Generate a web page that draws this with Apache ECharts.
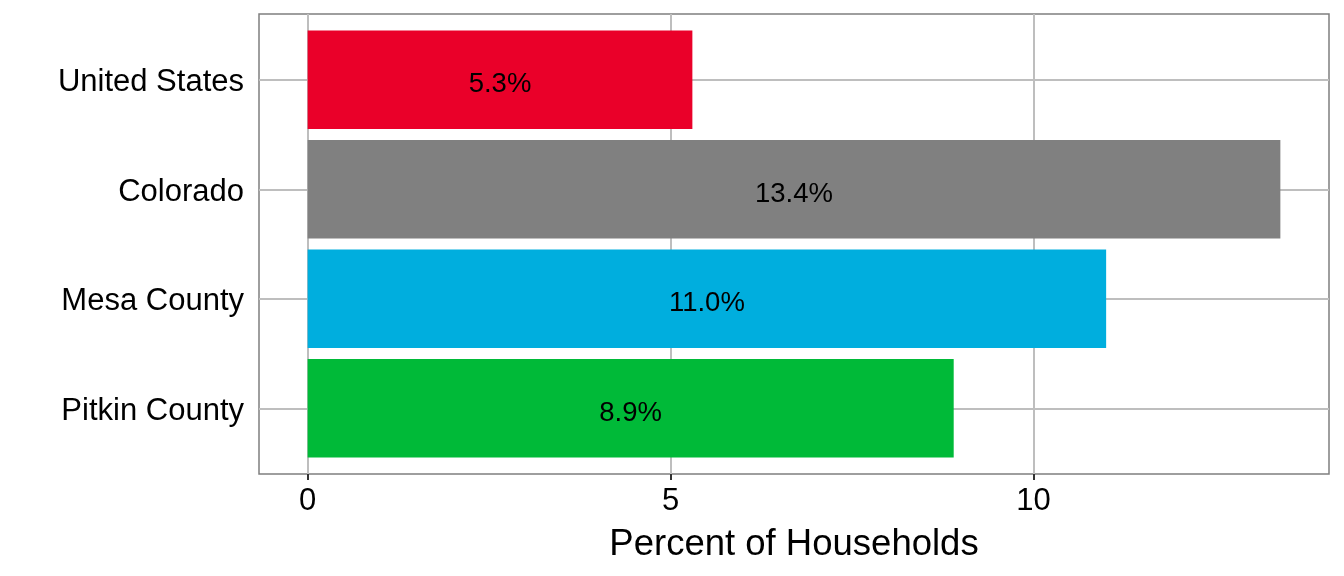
<!DOCTYPE html>
<html>
<head>
<meta charset="utf-8">
<script src="https://cdn.jsdelivr.net/npm/echarts@6/dist/echarts.min.js"></script>
<style>
html,body{margin:0;padding:0;background:#fff;}
#chart{width:1344px;height:576px;}
</style>
</head>
<body>
<div id="chart"></div>
<script>
const categories = ['United States', 'Colorado', 'Mesa County', 'Pitkin County'];
const values = [5.3, 13.4, 11.0, 8.9];
const xTickValues = [0, 5, 10];
const xTitle = 'Percent of Households';

const barColors = ['#EA0029', '#808080', '#00AEDE', '#00BA38'];
const FONT = "'Liberation Sans', Arial, sans-serif";
const dataMax = Math.max(...values);
const xMin = -dataMax * 0.05, xMax = dataMax * 1.05;

const chart = echarts.init(document.getElementById('chart'), null, {renderer: 'canvas'});
chart.setOption({
  animation: false,
  backgroundColor: '#fff',
  textStyle: {fontFamily: FONT},
  grid: [
    {left: 259, right: 15, top: 14, bottom: 102, show: true, borderColor: '#7f7f7f', borderWidth: 1.5, backgroundColor: 'transparent', z: 0},
    {left: 259, right: 15, top: 25, bottom: 113, containLabel: false}
  ],
  xAxis: [
    {
      gridIndex: 0, type: 'value', min: xMin, max: xMax,
      axisLine: {show: false},
      axisTick: {show: true, length: 6, lineStyle: {color: '#333', width: 2}, customValues: xTickValues},
      axisLabel: {customValues: xTickValues, color: '#000', fontSize: 31, fontFamily: FONT, margin: 12},
      splitLine: {show: true, lineStyle: {color: '#bebebe', width: 2}},
      name: xTitle, nameLocation: 'middle', nameGap: 52,
      nameTextStyle: {color: '#000', fontSize: 36.5, fontFamily: FONT}
    },
    {
      gridIndex: 1, type: 'value', min: xMin, max: xMax, show: false
    }
  ],
  yAxis: [
    {gridIndex: 0, type: 'value', show: false, min: 0, max: 1, splitLine: {show: false}},
    {
      gridIndex: 1, type: 'category', data: categories, inverse: true,
      axisLine: {show: false},
      axisTick: {show: true, alignWithLabel: true, length: 6, lineStyle: {color: '#333', width: 2}},
      axisLabel: {
        color: '#000', fontSize: 31, fontFamily: FONT, margin: 15,
        formatter: v => '{a|' + v + '}',
        rich: {a: {color: '#000', fontSize: 31, fontFamily: FONT, padding: [6, 0, 0, 0]}}
      },
      splitLine: {show: false}
    }
  ],
  series: [
    {
      type: 'bar', xAxisIndex: 1, yAxisIndex: 1, barWidth: '90%', z: 3,
      data: values.map((v, i) => ({value: v, itemStyle: {color: barColors[i]}})),
      label: {
        show: true, position: 'inside', color: '#000', fontSize: 27.5, fontFamily: FONT,
        offset: [0, 5],
        formatter: p => p.value.toFixed(1) + '%'
      },
      markLine: {
        silent: true, symbol: ['none', 'none'], z: 1,
        label: {show: false},
        lineStyle: {color: '#bebebe', width: 2, type: 'solid'},
        data: categories.map(c => ({yAxis: c}))
      }
    }
  ]
});
</script>
</body>
</html>
